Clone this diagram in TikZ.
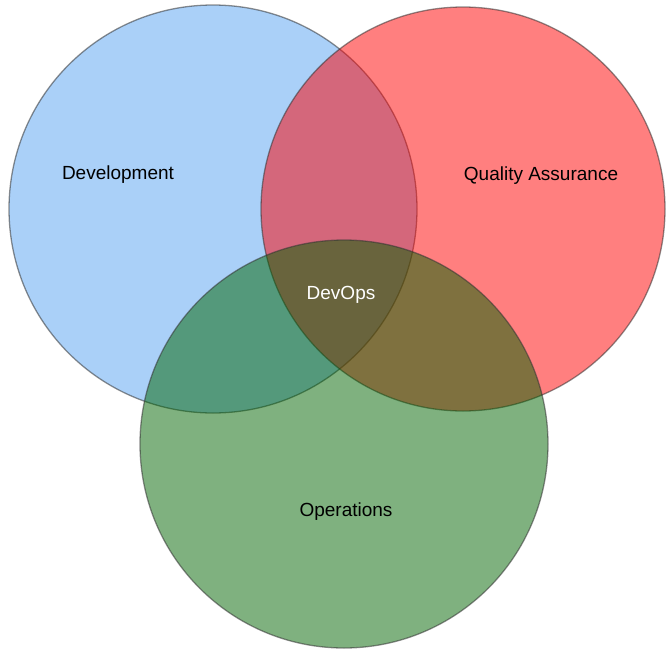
\documentclass[tikz,border=0pt]{standalone}
\usepackage{fontspec}
\setmainfont{Liberation Sans}
\usepackage{tikz}
\usetikzlibrary{positioning}
\definecolor{devblue}{RGB}{85,161,241}
\definecolor{qared}{RGB}{255,0,0}
\definecolor{opsgreen}{RGB}{0,100,0}

\begin{document}
\begin{tikzpicture}[x=1pt, y=-1pt,
  set/.style={circle, minimum size=408pt, inner sep=0pt, line width=1.3pt,
    draw=black!80, draw opacity=0.55, fill opacity=0.5},
  setlabel/.style={font=\fontsize{19}{23}\selectfont, inner sep=0pt}]
  \useasboundingbox (0,0) rectangle (666,651);
  \node[set, fill=devblue]  (dev) at (213,209) {}; %
  \node[set, fill=qared, minimum size=404pt] (qa) at (463,209) {}; %
  \node[set, fill=opsgreen] (ops) at (344,444) {}; %

  \node[setlabel]              (devl)    at (118,175) {Development}; %
  \node[setlabel]              (qal)     at (541,176) {Quality Assurance}; %
  \node[setlabel, text=white]  (devops)  at (341,295) {DevOps}; %
  \node[setlabel]              (opsl)    at (346,512) {Operations}; %
\end{tikzpicture}
\end{document}
